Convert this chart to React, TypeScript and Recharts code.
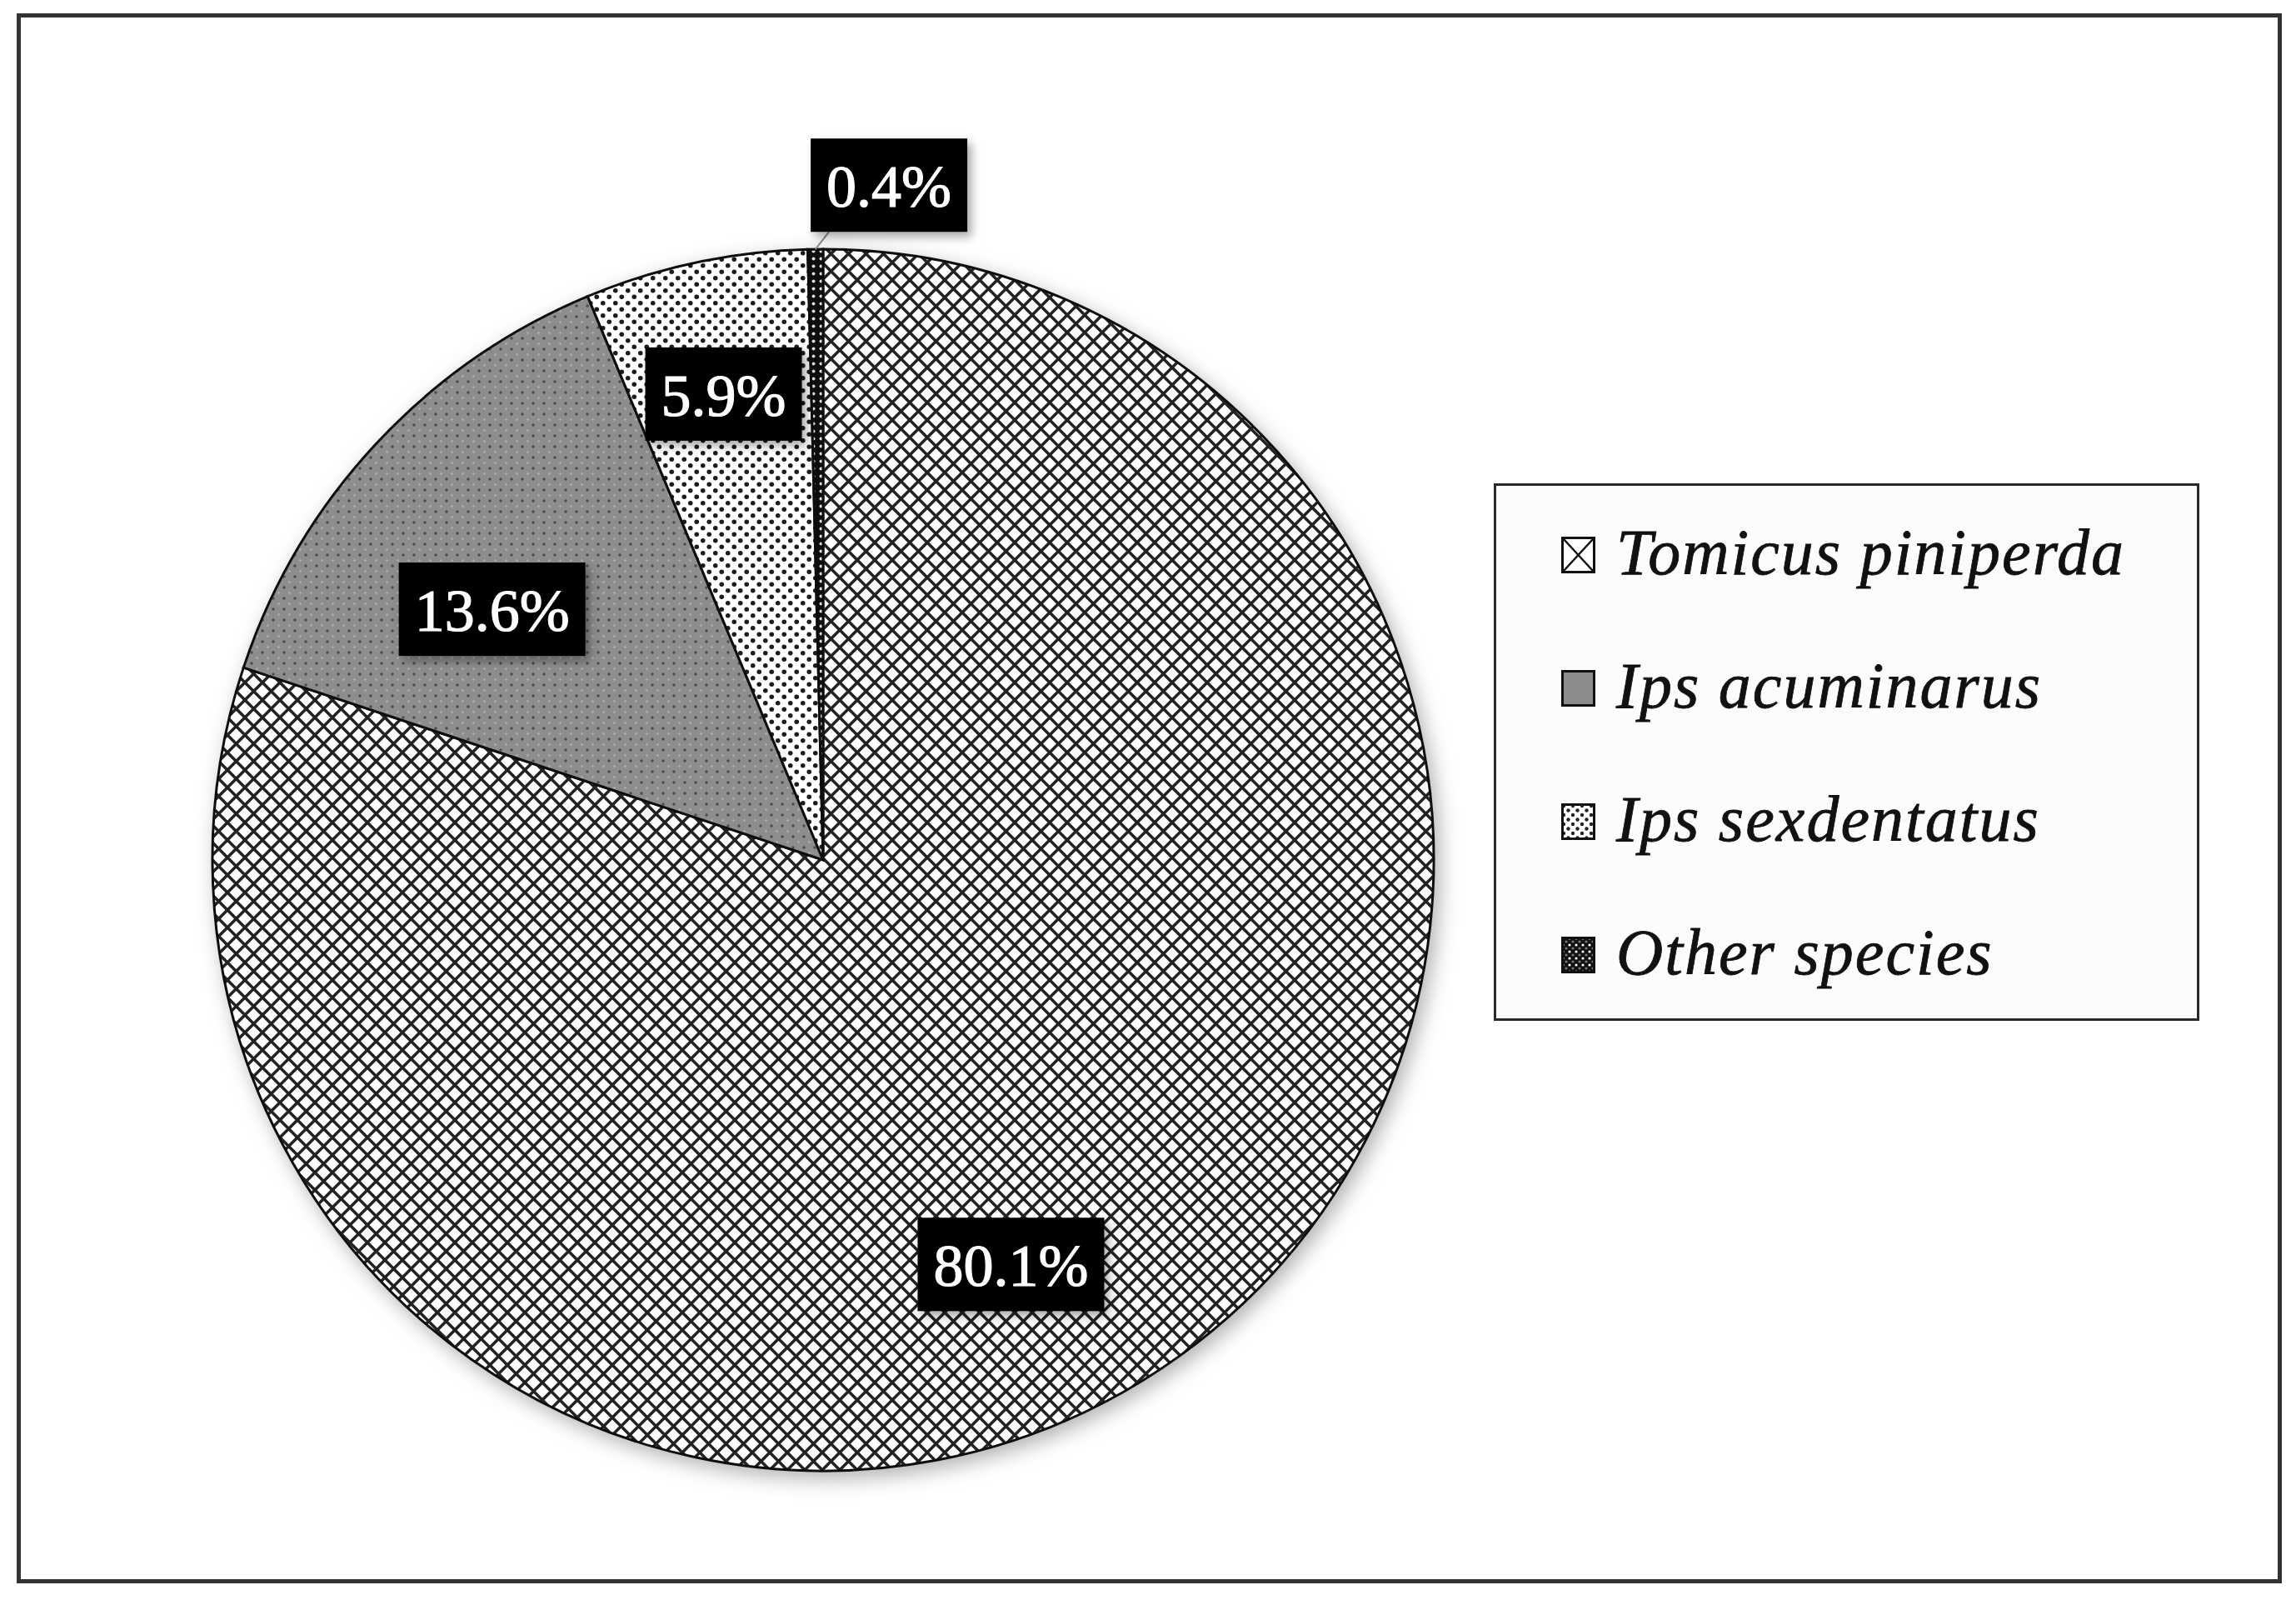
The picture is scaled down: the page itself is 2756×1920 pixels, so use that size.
import React from "react";
import { PieChart, Pie, Cell, Legend } from "recharts";

// beetle species share of captures (%), clockwise from 12 o'clock
const species = ["Tomicus piniperda", "Ips acuminarus", "Ips sexdentatus", "Other species"];
const shares = [80.1, 13.6, 5.9, 0.4];
const shareLabels = ["80.1%", "13.6%", "5.9%", "0.4%"];

const data = species.map((name, i) => ({ name, value: shares[i] }));

const fills = ["url(#hatch)", "url(#greyDots)", "url(#whiteDots)", "url(#blackDots)"];

// Excel "best fit" label placement: nudge off the mid angle (deg) + fraction of radius
const labelNudge = [-10.9, 5.7, 0, -6.3];
const labelRadius = [0.73, 0.68, 0.78, 1.11];

const RAD = Math.PI / 180;
const LABEL_SIZE = 72;
const SERIF = "'Liberation Serif', 'DejaVu Serif', serif";

function textWidth(s: string, size: number) {
  let w = 0;
  for (const ch of s) w += ch === "." ? 0.25 : ch === "%" ? 0.833 : 0.5;
  return w * size;
}

function renderLabel(props: any) {
  const { cx, cy, midAngle, outerRadius } = props;
  let index = typeof props.index === "number" ? props.index : species.indexOf(props.name);
  if (index < 0) index = 0;
  const a = (midAngle + labelNudge[index]) * RAD;
  const r = outerRadius * labelRadius[index];
  const x = cx + r * Math.cos(a);
  const y = cy - r * Math.sin(a);
  const text = shareLabels[index];
  const w = textWidth(text, LABEL_SIZE) + 38;
  const h = 112;
  const outside = labelRadius[index] > 1;
  const ex = cx + outerRadius * Math.cos(midAngle * RAD);
  const ey = cy - outerRadius * Math.sin(midAngle * RAD);
  return (
    <g key={`lbl-${index}`}>
      {outside && (
        <line x1={ex} y1={ey} x2={x - w / 2 + 22} y2={y + h / 2} stroke="#8a8a8a" strokeWidth={2} />
      )}
      <rect x={x - w / 2} y={y - h / 2} width={w} height={h} fill="#000" filter="url(#boxShadow)" />
      <text
        x={x}
        y={y + 2}
        fill="#fff"
        stroke="#fff"
        strokeWidth={1.2}
        textAnchor="middle"
        dominantBaseline="central"
        fontFamily={SERIF}
        fontSize={LABEL_SIZE}
      >
        {text}
      </text>
    </g>
  );
}

function LegendIcon({ i }: { i: number }) {
  const w = 41;
  const h = 44;
  return (
    <svg width={w} height={h} style={{ display: "block", flex: "none", marginTop: 6 }}>
      <defs>
        <pattern id="icoWhiteDots" width="11" height="11" patternUnits="userSpaceOnUse">
          <rect width="11" height="11" fill="#fff" />
          <circle cx="3" cy="3" r="2.2" fill="#222" />
          <circle cx="8.5" cy="8.5" r="2.2" fill="#222" />
        </pattern>
        <pattern id="icoBlackDots" width="8" height="8" patternUnits="userSpaceOnUse">
          <rect width="8" height="8" fill="#111" />
          <circle cx="2" cy="2" r="1.6" fill="#fff" />
          <circle cx="6" cy="6" r="1.6" fill="#777" />
        </pattern>
      </defs>
      <rect
        x={1.5}
        y={1.5}
        width={w - 3}
        height={h - 3}
        fill={i === 0 ? "#fff" : i === 1 ? "#8c8c8c" : i === 2 ? "url(#icoWhiteDots)" : "url(#icoBlackDots)"}
        stroke="#111"
        strokeWidth={3}
      />
      {i === 0 && (
        <g stroke="#111" strokeWidth={2.5}>
          <line x1={3} y1={3} x2={w - 3} y2={h - 3} />
          <line x1={w - 3} y1={3} x2={3} y2={h - 3} />
        </g>
      )}
    </svg>
  );
}

// legend keeps the series order (Recharts would sort the payload by name)
function SpeciesLegend() {
  return (
    <div
      style={{
        width: 847,
        height: 645,
        boxSizing: "border-box",
        border: "3px solid #2a2a2a",
        background: "#fcfcfc",
      }}
    >
      {species.map((n, i) => (
        <div key={n} style={{ display: "flex", alignItems: "center", height: 160, paddingLeft: 78 }}>
          <LegendIcon i={i} />
          <span
            style={{
              marginLeft: 25,
              fontFamily: SERIF,
              fontStyle: "italic",
              fontSize: 78,
              letterSpacing: 2,
              color: "#111",
              lineHeight: 1,
              whiteSpace: "nowrap",
              WebkitTextStroke: "0.8px #111",
            }}
          >
            {n}
          </span>
        </div>
      ))}
    </div>
  );
}

export default function App() {
  return (
    <div style={{ position: "absolute", left: 0, top: 0, width: 2756, height: 1920, background: "#fff" }}>
      <style>{`.recharts-pie { filter: url(#pieShadow); }`}</style>
      <div
        style={{
          position: "absolute",
          left: 20,
          top: 16,
          width: 2719,
          height: 1884,
          boxSizing: "border-box",
          border: "5px solid #333",
        }}
      />
      <div style={{ position: "absolute", left: 0, top: 0 }}>
        <PieChart width={2756} height={1920} margin={{ top: 0, right: 0, bottom: 0, left: 0 }}>
          <defs>
            <pattern id="hatch" width="21" height="21" patternUnits="userSpaceOnUse">
              <rect width="21" height="21" fill="#fff" />
              <path d="M-2,-2 L23,23 M-2,23 L23,-2 M-12.5,8.5 L8.5,29.5 M12.5,-8.5 L29.5,8.5" stroke="#222" strokeWidth="3.6" fill="none" />
            </pattern>
            <pattern id="greyDots" width="13" height="13" patternUnits="userSpaceOnUse">
              <rect width="13" height="13" fill="#8d8d8d" />
              <circle cx="3" cy="3" r="1.7" fill="#4c4c4c" />
              <circle cx="9.5" cy="9.5" r="1.3" fill="#b4b4b4" />
            </pattern>
            <pattern id="whiteDots" width="15" height="15" patternUnits="userSpaceOnUse">
              <rect width="15" height="15" fill="#fff" />
              <circle cx="3.75" cy="3.75" r="2.8" fill="#1a1a1a" />
              <circle cx="11.25" cy="11.25" r="2.8" fill="#1a1a1a" />
            </pattern>
            <pattern id="blackDots" width="9" height="9" patternUnits="userSpaceOnUse">
              <rect width="9" height="9" fill="#0a0a0a" />
              <circle cx="4.5" cy="4.5" r="2" fill="#ddd" />
            </pattern>
            <filter id="pieShadow" x="-10%" y="-10%" width="120%" height="120%">
              <feDropShadow dx="6" dy="8" stdDeviation="12" floodColor="#000" floodOpacity="0.3" />
            </filter>
            <filter id="boxShadow" x="-20%" y="-20%" width="150%" height="150%">
              <feDropShadow dx="5" dy="6" stdDeviation="6" floodColor="#000" floodOpacity="0.35" />
            </filter>
          </defs>
          <Pie
            data={data}
            dataKey="value"
            nameKey="name"
            cx={988}
            cy={1032}
            outerRadius={733}
            startAngle={90}
            endAngle={-270}
            stroke="#111"
            strokeWidth={3}
            labelLine={false}
            label={renderLabel}
            isAnimationActive={false}
          >
            {data.map((d, i) => (
              <Cell key={d.name} fill={fills[i]} />
            ))}
          </Pie>
          <Legend
            layout="vertical"
            align="right"
            verticalAlign="middle"
            content={SpeciesLegend}
            wrapperStyle={{ position: "absolute", left: 1793, top: 580, width: 847, height: 645, right: "auto", bottom: "auto" }}
          />
        </PieChart>
      </div>
    </div>
  );
}
